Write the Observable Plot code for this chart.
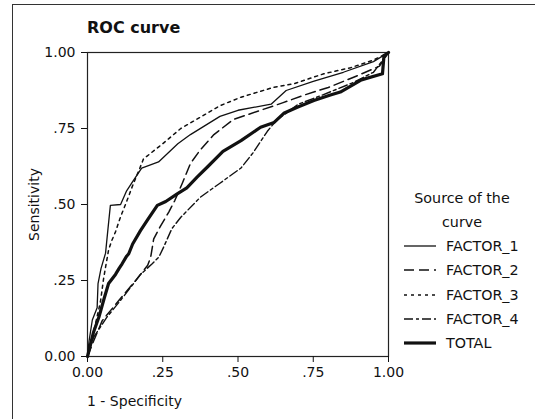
<!DOCTYPE html>
<html>
<head>
<meta charset="utf-8">
<script src="https://cdn.jsdelivr.net/npm/d3@7"></script>
<script src="https://cdn.jsdelivr.net/npm/@observablehq/plot@0.6"></script>
<style>
  html, body { margin: 0; padding: 0; background: #fff; }
  #wrap { position: relative; width: 535px; height: 419px; overflow: hidden; background: #fff;
          font-family: "DejaVu Sans", sans-serif; color: #111; }
  #border { position: absolute; left: 12px; top: 4px; width: 600px; height: 500px;
            border-top: 1.5px solid #333; border-left: 1.5px solid #333; }
  #chart { position: absolute; left: 0; top: 0; }
  #title { position: absolute; left: 87px; top: 17px; font-weight: bold; font-size: 16px; line-height: 22px; }
  #xlabel { position: absolute; left: 87px; top: 392px; font-size: 14px; line-height: 18px; }
  #legend { position: absolute; left: 400px; top: 186px; width: 130px; font-size: 14.3px; }
  #legend .hd { text-align: center; width: 124px; line-height: 24px; }
  #legend .row { display: flex; align-items: center; height: 24.3px; }
  #legend .row svg { margin-left: 4px; margin-right: 10px; }
</style>
</head>
<body>
<div id="wrap">
  <div id="border"></div>
  <div id="chart"></div>
  <div id="title">ROC curve</div>
  <div id="xlabel">1 - Specificity</div>
  <div id="legend"></div>
</div>
<script>
// ---- data ----
const seriesNames = ["FACTOR_1", "FACTOR_2", "FACTOR_3", "FACTOR_4", "TOTAL"];

const factor1X = [0, 0.005, 0.016, 0.032, 0.035, 0.045, 0.06, 0.068, 0.076, 0.11, 0.13, 0.15, 0.18, 0.236, 0.3, 0.342, 0.44, 0.5, 0.61, 0.66, 0.75, 0.85, 0.95, 1];
const factor1Y = [0, 0.05, 0.12, 0.16, 0.24, 0.29, 0.34, 0.42, 0.497, 0.50, 0.545, 0.575, 0.62, 0.64, 0.70, 0.73, 0.79, 0.81, 0.83, 0.875, 0.905, 0.935, 0.97, 1];

const factor2X = [0, 0.02, 0.049, 0.104, 0.16, 0.2, 0.21, 0.22, 0.243, 0.27, 0.29, 0.315, 0.342, 0.375, 0.42, 0.485, 0.575, 0.65, 0.72, 0.8, 0.9, 0.97, 1];
const factor2Y = [0, 0.05, 0.118, 0.184, 0.25, 0.30, 0.327, 0.387, 0.43, 0.475, 0.513, 0.57, 0.635, 0.68, 0.73, 0.78, 0.81, 0.835, 0.86, 0.885, 0.925, 0.955, 1];

const factor3X = [0, 0.01, 0.027, 0.043, 0.054, 0.07, 0.08, 0.093, 0.11, 0.13, 0.153, 0.17, 0.186, 0.25, 0.31, 0.38, 0.44, 0.51, 0.62, 0.685, 0.785, 0.874, 0.95, 1];
const factor3Y = [0, 0.04, 0.11, 0.18, 0.26, 0.35, 0.38, 0.41, 0.46, 0.51, 0.57, 0.61, 0.65, 0.70, 0.75, 0.79, 0.825, 0.853, 0.886, 0.897, 0.93, 0.95, 0.975, 1];

const factor4X = [0, 0.02, 0.065, 0.11, 0.153, 0.176, 0.215, 0.237, 0.253, 0.28, 0.31, 0.375, 0.44, 0.51, 0.55, 0.597, 0.63, 0.66, 0.7, 0.78, 0.88, 0.95, 1];
const factor4Y = [0, 0.063, 0.13, 0.185, 0.24, 0.27, 0.305, 0.327, 0.36, 0.42, 0.458, 0.524, 0.57, 0.62, 0.67, 0.74, 0.78, 0.80, 0.83, 0.86, 0.90, 0.935, 1];

const totalX = [0, 0.01, 0.02, 0.038, 0.055, 0.07, 0.093, 0.105, 0.115, 0.13, 0.137, 0.15, 0.176, 0.2, 0.232, 0.26, 0.298, 0.33, 0.364, 0.4, 0.45, 0.51, 0.575, 0.62, 0.652, 0.697, 0.752, 0.807, 0.84, 0.91, 0.98, 0.985, 1];
const totalY = [0, 0.04, 0.08, 0.13, 0.19, 0.24, 0.27, 0.29, 0.305, 0.33, 0.338, 0.37, 0.414, 0.45, 0.497, 0.51, 0.535, 0.555, 0.59, 0.625, 0.675, 0.71, 0.754, 0.77, 0.80, 0.82, 0.842, 0.86, 0.87, 0.91, 0.93, 0.99, 1];

const tickValues = [0, 0.25, 0.5, 0.75, 1];
const tickLabels = ["0.00", ".25", ".50", ".75", "1.00"];

// ---- styles ----
const styles = {
  FACTOR_1: {strokeWidth: 1.3, dash: null},
  FACTOR_2: {strokeWidth: 1.5, dash: "10,5"},
  FACTOR_3: {strokeWidth: 1.5, dash: "3,4"},
  FACTOR_4: {strokeWidth: 1.4, dash: "9,3,3,3"},
  TOTAL:    {strokeWidth: 3.2, dash: null}
};
const pairs = {
  FACTOR_1: [factor1X, factor1Y],
  FACTOR_2: [factor2X, factor2Y],
  FACTOR_3: [factor3X, factor3Y],
  FACTOR_4: [factor4X, factor4Y],
  TOTAL: [totalX, totalY]
};
const rows = name => pairs[name][0].map((x, i) => ({x, y: pairs[name][1][i]}));
const fmt = d => tickLabels[tickValues.indexOf(d)];
const ink = "#111";

const chart = Plot.plot({
  width: 535,
  height: 419,
  marginLeft: 87,
  marginRight: 147,
  marginTop: 52,
  marginBottom: 63,
  style: {fontFamily: "DejaVu Sans, sans-serif", fontSize: "14px", color: ink, background: "transparent"},
  x: {domain: [0, 1]},
  y: {domain: [0, 1]},
  marks: [
    Plot.frame({stroke: "#222", strokeWidth: 1.2}),
    Plot.axisX({ticks: tickValues, tickFormat: fmt, tickSize: 6, tickPadding: 5, fontSize: 14, label: null}),
    Plot.axisY({ticks: tickValues, tickFormat: fmt, tickSize: 6, tickPadding: 6, fontSize: 14,
                label: "Sensitivity", labelAnchor: "center", labelArrow: "none", labelOffset: 58}),
    ...seriesNames.map(name => Plot.line(rows(name), {
      x: "x", y: "y", stroke: ink,
      strokeWidth: styles[name].strokeWidth,
      strokeDasharray: styles[name].dash || undefined,
      strokeLinejoin: "round"
    }))
  ]
});
document.getElementById("chart").appendChild(chart);

// ---- legend ----
const legend = document.getElementById("legend");
legend.innerHTML = `<div class="hd">Source of the</div><div class="hd">curve</div>`;
for (const name of seriesNames) {
  const s = styles[name];
  const row = document.createElement("div");
  row.className = "row";
  row.innerHTML = `<svg width="32" height="10"><line x1="0" x2="32" y1="5" y2="5" stroke="${ink}" stroke-width="${s.strokeWidth}" ${s.dash ? `stroke-dasharray="${s.dash}"` : ""}/></svg><span>${name}</span>`;
  legend.appendChild(row);
}
</script>
</body>
</html>
